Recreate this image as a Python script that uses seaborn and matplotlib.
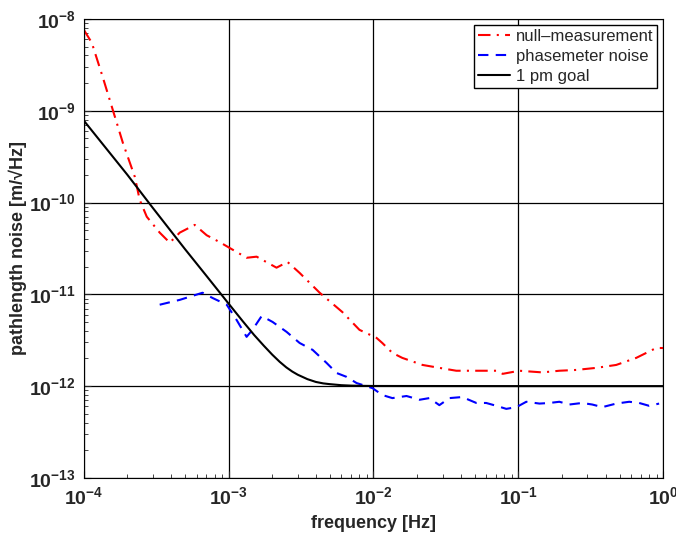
import numpy as np
import pandas as pd
import matplotlib
matplotlib.use('Agg')
import matplotlib.pyplot as plt
import matplotlib.ticker as mticker
import seaborn as sns

# null-measurement (red, dash-dot)
null_f = [1.0e-4, 1.135e-4, 1.35e-4, 1.585e-4, 1.86e-4, 2.25e-4, 2.43e-4, 2.72e-4, 3.34e-4,
          3.92e-4, 4.6e-4, 5.83e-4, 7.05e-4, 8.67e-4, 1.07e-3, 1.33e-3, 1.56e-3, 2.14e-3,
          2.55e-3, 3.09e-3, 4.25e-3, 6.1e-3, 8.0e-3, 1.05e-2, 1.15e-2, 1.35e-2, 1.58e-2,
          2.18e-2, 2.85e-2, 3.73e-2, 5.1e-2, 7.05e-2, 7.8e-2, 0.1016, 0.1466, 0.192, 0.251,
          0.345, 0.474, 0.652, 0.895, 1.0]
null_v = [7.6e-9, 5.5e-9, 2.33e-9, 1.02e-9, 4.47e-10, 1.9e-10, 1.07e-10, 7.0e-11, 4.7e-11,
          3.65e-11, 4.7e-11, 5.7e-11, 4.4e-11, 3.7e-11, 3.05e-11, 2.5e-11, 2.57e-11, 1.95e-11,
          2.25e-11, 1.71e-11, 1.04e-11, 6.4e-12, 4.1e-12, 3.35e-12, 2.95e-12, 2.3e-12, 2.03e-12,
          1.7e-12, 1.58e-12, 1.47e-12, 1.47e-12, 1.47e-12, 1.36e-12, 1.47e-12, 1.41e-12, 1.47e-12,
          1.5e-12, 1.58e-12, 1.7e-12, 2.03e-12, 2.6e-12, 2.6e-12]

# phasemeter noise (blue, dashed)
phase_f = [3.34e-4, 4.6e-4, 6.6e-4, 7.76e-4, 9.7e-4, 1.135e-3, 1.33e-3, 1.46e-3, 1.69e-3,
           2.01e-3, 2.51e-3, 3.09e-3, 3.8e-3, 4.74e-3, 5.56e-3, 6.52e-3, 7.64e-3, 9.85e-3,
           1.15e-2, 1.35e-2, 1.69e-2, 2.08e-2, 2.43e-2, 2.85e-2, 3.34e-2, 4.1e-2, 5.13e-2,
           6.0e-2, 7.05e-2, 8.26e-2, 9.7e-2, 0.1135, 0.14, 0.164, 0.192, 0.225, 0.276, 0.324,
           0.38, 0.474, 0.583, 0.683, 0.8, 0.938]
phase_v = [7.7e-12, 8.7e-12, 1.04e-11, 9.1e-12, 7.7e-12, 5.25e-12, 3.44e-12, 4.1e-12, 5.8e-12,
           5.0e-12, 3.9e-12, 2.95e-12, 2.48e-12, 1.79e-12, 1.39e-12, 1.26e-12, 1.08e-12, 9.5e-13,
           8.0e-13, 7.4e-13, 7.8e-13, 7.1e-13, 7.4e-13, 6.2e-13, 7.4e-13, 7.6e-13, 6.55e-13,
           6.55e-13, 6.1e-13, 5.65e-13, 5.9e-13, 6.75e-13, 6.45e-13, 6.55e-13, 6.75e-13, 6.3e-13,
           6.55e-13, 6.3e-13, 5.9e-13, 6.45e-13, 6.75e-13, 6.55e-13, 6.1e-13, 6.45e-13]

# 1 pm goal (black, solid)
goal_f = [1e-4, 2e-4, 3e-4, 5e-4, 7e-4, 1e-3, 1.25e-3, 1.5e-3, 1.75e-3, 2e-3, 2.25e-3,
          2.5e-3, 2.75e-3, 3e-3, 3.5e-3, 4e-3, 4.5e-3, 5e-3, 6e-3, 7e-3, 8.5e-3, 1e-2, 1e-1, 1.0]
goal_v = [7.8e-10, 2.0e-10, 8.7e-11, 3.1e-11, 1.6e-11, 7.9e-12, 5.1e-12, 3.6e-12, 2.75e-12,
          2.2e-12, 1.84e-12, 1.6e-12, 1.44e-12, 1.33e-12, 1.19e-12, 1.11e-12, 1.07e-12, 1.05e-12,
          1.023e-12, 1.012e-12, 1.006e-12, 1.003e-12, 1.0e-12, 1.0e-12]

sns.set_style('ticks')
plt.rcParams['font.family'] = ['Liberation Sans', 'DejaVu Sans']
plt.rcParams['mathtext.fontset'] = 'custom'
plt.rcParams['mathtext.rm'] = 'Liberation Sans:bold'
plt.rcParams['mathtext.bf'] = 'Liberation Sans:bold'

df_null = pd.DataFrame({'f': null_f, 'v': null_v})
df_phase = pd.DataFrame({'f': phase_f, 'v': phase_v})
df_goal = pd.DataFrame({'f': goal_f, 'v': goal_v})

fig = plt.figure(figsize=(6.76, 5.4), dpi=100)
ax = fig.add_axes([0.124, 0.115, 0.857, 0.85])

sns.lineplot(data=df_null, x='f', y='v', ax=ax, color='#ff0000', lw=1.5,
             label='null\u2013measurement', estimator=None, sort=False)
ax.lines[-1].set_dashes([6, 3, 1, 3])
sns.lineplot(data=df_phase, x='f', y='v', ax=ax, color='#0000ff', lw=1.5,
             label='phasemeter noise', estimator=None, sort=False)
ax.lines[-1].set_dashes([5, 3.5])
sns.lineplot(data=df_goal, x='f', y='v', ax=ax, color='black', lw=1.5,
             label='1 pm goal', estimator=None, sort=False)

ax.set_xscale('log')
ax.set_yscale('log')
ax.set_xlim(1e-4, 1)
ax.set_ylim(1e-13, 1e-8)

fmt = mticker.FuncFormatter(lambda v, p: r'$\mathbf{10^{%d}}$' % round(np.log10(v)))
ax.xaxis.set_major_locator(mticker.LogLocator(base=10, numticks=10))
ax.yaxis.set_major_locator(mticker.LogLocator(base=10, numticks=10))
ax.xaxis.set_major_formatter(fmt)
ax.yaxis.set_major_formatter(fmt)
ax.xaxis.set_minor_locator(mticker.LogLocator(base=10, subs=np.arange(2, 10), numticks=20))
ax.yaxis.set_minor_locator(mticker.LogLocator(base=10, subs=np.arange(2, 10), numticks=20))
ax.xaxis.set_minor_formatter(mticker.NullFormatter())
ax.yaxis.set_minor_formatter(mticker.NullFormatter())

ax.tick_params(which='major', direction='in', length=5, width=0.8, labelsize=14, pad=6)
ax.tick_params(which='minor', direction='in', length=3, width=0.6)
ax.grid(True, which='major', color='black', lw=0.9)
ax.grid(False, which='minor')
for s in ax.spines.values():
    s.set_color('black')
    s.set_linewidth(0.8)

ax.set_xlabel('frequency [Hz]', fontsize=13, fontweight='bold', labelpad=5)
ax.set_ylabel('pathlength noise [m/\u221aHz]', fontsize=13, fontweight='bold', labelpad=1)

leg = ax.legend(loc='upper right', fontsize=12, frameon=True, fancybox=False,
                edgecolor='black', handlelength=1.9, handletextpad=0.35,
                borderpad=0.25, labelspacing=0.3, borderaxespad=0.35)
leg.get_frame().set_linewidth(1.0)
leg.get_frame().set_alpha(1)

fig.savefig('out.png', dpi=100)
